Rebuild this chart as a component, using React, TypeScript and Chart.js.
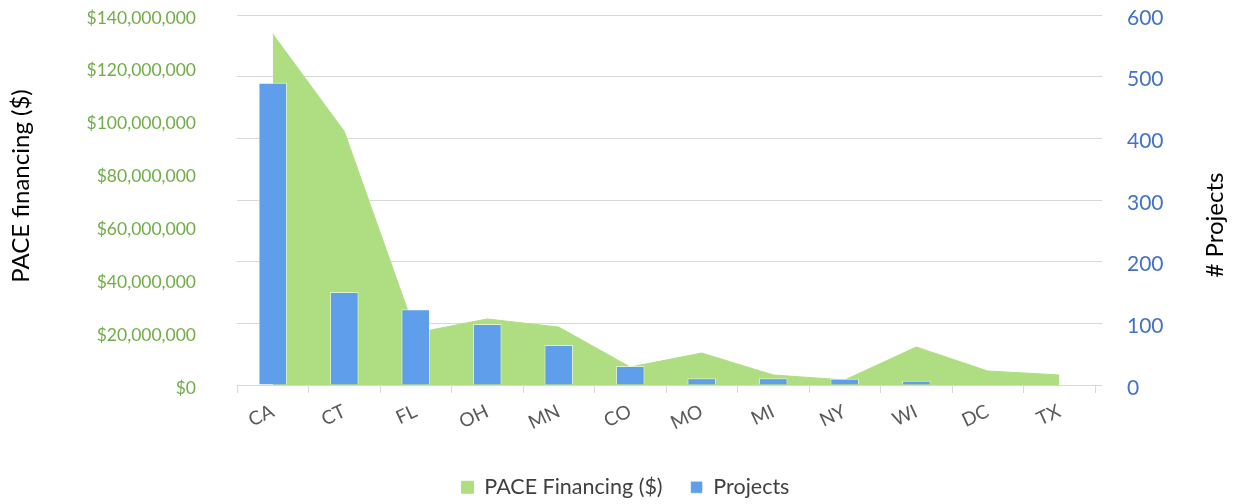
import React, { useEffect, useRef } from "react";
import { Chart, registerables } from "chart.js";

Chart.register(...registerables);

const states = ["CA", "CT", "FL", "OH", "MN", "CO", "MO", "MI", "NY", "WI", "DC", "TX"];
const paceFinancing = [132800000, 96000000, 19700000, 25000000, 21900000, 6800000, 12100000, 3800000, 1900000, 14400000, 5300000, 3800000];
const projects = [490, 151, 123, 99, 65, 31, 11, 11, 10, 7, 0, 0];
const seriesNames = ["PACE Financing ($)", "Projects"];
const leftTitle = "PACE financing ($)";
const rightTitle = "# Projects";

const FONT = "Lato, 'Open Sans', sans-serif";
const PAD_LEFT = 18;
const PAD_BOTTOM = -4;

const axisTitles = {
  id: "axisTitles",
  afterDraw(chart: any) {
    const ctx = chart.ctx;
    const draw = (text: string, x: number, y: number) => {
      ctx.save();
      ctx.fillStyle = "#000000";
      ctx.font = `24px ${FONT}`;
      ctx.textAlign = "center";
      ctx.textBaseline = "middle";
      ctx.translate(x, y);
      ctx.rotate(-Math.PI / 2);
      ctx.fillText(text, 0, 0);
      ctx.restore();
    };
    draw(leftTitle, 21, 186);
    draw(rightTitle, 1215, 225);
  },
};

export default function App() {
  const ref = useRef<HTMLCanvasElement | null>(null);
  useEffect(() => {
    if (!ref.current) return;
    const chart = new Chart(ref.current, {
      type: "bar",
      data: {
        labels: states,
        datasets: [
          {
            type: "line",
            label: seriesNames[0],
            data: paceFinancing,
            yAxisID: "yL",
            backgroundColor: "#AEDE81",
            borderColor: "#AEDE81",
            borderWidth: 1,
            fill: "origin",
            pointRadius: 0,
            tension: 0,
            order: 2,
          } as any,
          {
            type: "bar",
            label: seriesNames[1],
            data: projects,
            yAxisID: "yR",
            backgroundColor: "#5F9EEA",
            borderColor: "rgba(255,255,255,0.6)",
            borderWidth: 1,
            categoryPercentage: 1,
            barPercentage: 0.4,
            order: 1,
          } as any,
        ],
      },
      options: {
        responsive: false,
        animation: false,
        layout: { padding: { top: 15, left: PAD_LEFT, right: 0, bottom: PAD_BOTTOM } },
        plugins: {
          legend: {
            position: "bottom",
            labels: {
              boxWidth: 12,
              boxHeight: 12,
              padding: 28,
              color: "#404040",
              font: { family: FONT, size: 21.5 },
              sort: (a: any, b: any) => a.datasetIndex - b.datasetIndex,
            },
          },
          tooltip: { enabled: false },
          title: { display: false },
        },
        scales: {
          x: {
            offset: true,
            grid: {
              display: true,
              drawOnChartArea: false,
              drawTicks: true,
              tickLength: 8,
              color: "#d9d9d9",
              offset: true,
            },
            border: { display: true, color: "#d9d9d9" },
            ticks: {
              color: "#595959",
              font: { family: FONT, size: 19 },
              minRotation: 25,
              maxRotation: 25,
              padding: 7,
              autoSkip: false,
            },
            afterFit(scale: any) {
              const lh = scale.chart.legend ? scale.chart.legend.height : 40;
              scale.height = 504 - PAD_BOTTOM - lh - 385;
              scale.paddingLeft = 0;
              scale.paddingRight = 0;
            },
          },
          yL: {
            position: "left",
            min: 0,
            max: 140000000,
            grid: { display: false, drawTicks: false },
            border: { display: false },
            ticks: {
              stepSize: 20000000,
              color: "#70AD47",
              font: { family: FONT, size: 17.5 },
              padding: 41,
              labelOffset: 3,
              callback: (v: any) => "$" + Number(v).toLocaleString("en-US"),
            },
            afterFit(scale: any) {
              scale.width = 237 - PAD_LEFT;
              scale.paddingTop = 0;
              scale.paddingBottom = 0;
            },
          },
          yR: {
            position: "right",
            min: 0,
            max: 600,
            grid: { display: true, color: "#d9d9d9", drawTicks: true, tickLength: 7 },
            border: { display: false },
            ticks: {
              stepSize: 100,
              color: "#4472C4",
              font: { family: FONT, size: 21 },
              padding: 25,
              labelOffset: 3,
            },
            afterFit(scale: any) {
              scale.width = 138;
              scale.paddingTop = 0;
              scale.paddingBottom = 0;
            },
          },
        },
      },
      plugins: [axisTitles],
    });
    return () => chart.destroy();
  }, []);
  return (
    <div style={{ position: "absolute", left: 0, top: 0, width: 1233, height: 504, background: "#fff" }}>
      <canvas ref={ref} width={1233} height={504} style={{ display: "block" }} />
    </div>
  );
}
